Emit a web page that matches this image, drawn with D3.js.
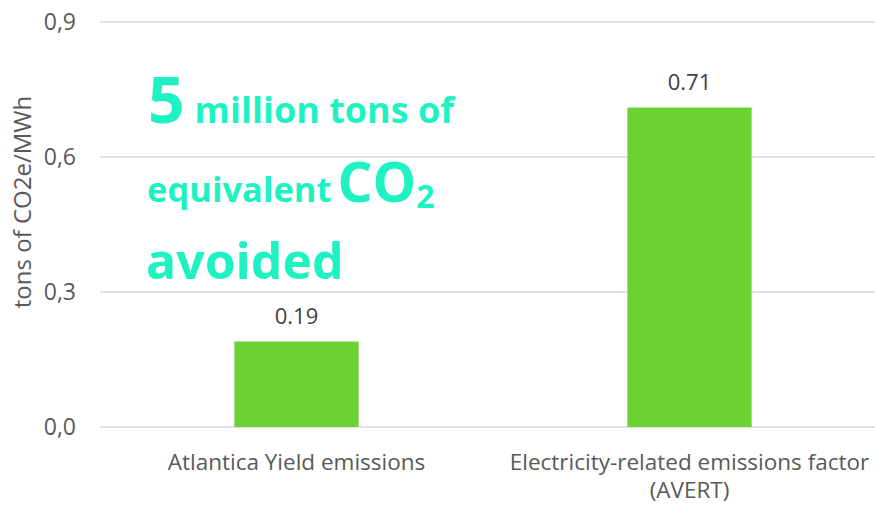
<!DOCTYPE html>
<html><head><meta charset="utf-8">
<script src="https://cdn.jsdelivr.net/npm/d3@7"></script>
<style>body{margin:0;background:#fff}svg{display:block}</style>
</head><body>
<script>
const categories = ["Atlantica Yield emissions", "Electricity-related emissions factor (AVERT)"];
const categoryLines = [["Atlantica Yield emissions"], ["Electricity-related emissions factor", "(AVERT)"]];
const values = [0.19, 0.71];
const valueLabels = ["0.19", "0.71"];
const yTicks = [0, 0.3, 0.6, 0.9];
const yTickLabels = ["0,0", "0,3", "0,6", "0,9"];
const yTitle = "tons of CO2e/MWh";

const W = 875, H = 507;
const svg = d3.select("body").append("svg").attr("width", W).attr("height", H);
const font = "'Open Sans', 'Noto Sans', sans-serif";

const x = d3.scaleBand().domain(categories).range([100, 886]).paddingInner(0.684).paddingOuter(0.342);
const y = d3.scaleLinear().domain([0, 0.9]).range([427, 22]);

// gridlines
svg.append("g").selectAll("line").data(yTicks).join("line")
  .attr("x1", 100).attr("x2", W)
  .attr("y1", d => y(d)).attr("y2", d => y(d))
  .attr("stroke", "#d9d9d9").attr("stroke-width", 1.5);

// y labels
svg.append("g").selectAll("text").data(yTicks).join("text")
  .attr("x", 76).attr("y", d => y(d)).attr("dy", "0.35em")
  .attr("text-anchor", "end").attr("font-family", font).attr("font-size", 23)
  .attr("fill", "#595959").text((d, i) => yTickLabels[i]);

svg.append("text").attr("transform", "translate(31,202) rotate(-90)")
  .attr("text-anchor", "middle").attr("font-family", font).attr("font-size", 24)
  .attr("fill", "#595959").text(yTitle);

// bars
svg.append("g").selectAll("rect").data(values).join("rect")
  .attr("x", (d, i) => x(categories[i])).attr("width", x.bandwidth())
  .attr("y", d => y(d)).attr("height", d => y(0) - y(d))
  .attr("fill", "#6cd132");

svg.append("g").selectAll("text").data(values).join("text")
  .attr("x", (d, i) => x(categories[i]) + x.bandwidth() / 2)
  .attr("y", d => y(d) - 18)
  .attr("text-anchor", "middle").attr("font-family", font).attr("font-size", 22)
  .attr("fill", "#404040").text((d, i) => valueLabels[i]);

// category labels
const cl = svg.append("g").selectAll("text").data(categories).join("text")
  .attr("x", d => x(d) + x.bandwidth() / 2).attr("y", 470)
  .attr("text-anchor", "middle").attr("font-family", font).attr("font-size", 22.5)
  .attr("fill", "#595959");
cl.each(function(d, i) {
  const t = d3.select(this);
  categoryLines[i].forEach((ln, j) => {
    t.append("tspan").attr("x", x(d) + x.bandwidth() / 2).attr("dy", j === 0 ? 0 : 28).text(ln);
  });
});

// annotation
const teal = "#1ff2c2";
const ann = svg.append("g").attr("font-family", font).attr("font-weight", "bold").attr("fill", teal);
const l1 = ann.append("text").attr("x", 148).attr("y", 123);
l1.append("tspan").attr("font-size", 64).text("5");
l1.append("tspan").attr("font-size", 36).attr("dx", 10).text("million tons of");
const l2 = ann.append("text").attr("x", 147).attr("y", 202);
l2.append("tspan").attr("font-size", 34.5).text("equivalent");
l2.append("tspan").attr("font-size", 55).attr("dx", 6).text("CO");
l2.append("tspan").attr("font-size", 32).attr("dy", 6).text("2");
ann.append("text").attr("x", 146).attr("y", 279).attr("font-size", 50).text("avoided");
</script>
</body></html>
